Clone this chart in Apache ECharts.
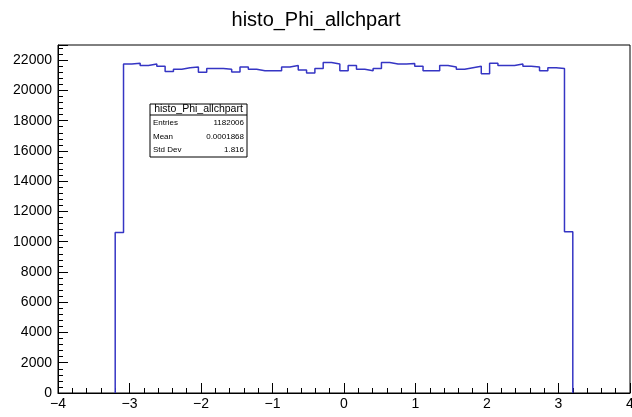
<!DOCTYPE html>
<html>
<head>
<meta charset="utf-8">
<script src="https://cdn.jsdelivr.net/npm/echarts@6/dist/echarts.min.js"></script>
<style>
  html, body { margin: 0; padding: 0; background: #fff; }
  #chart { width: 632px; height: 417px; }
</style>
</head>
<body>
<div id="chart"></div>
<script>
// histogram definition: 55 bins from -3.2 to 3.2
var binLow = -3.2;
var binHigh = 3.2;
var binCounts = [
  10600,
  21750, 21800, 21650, 21750, 21600, 21250, 21400, 21500, 21550, 21200, 21450, 21450, 21400,
  21220, 21550, 21400, 21300, 21300, 21300, 21550, 21650, 21350, 21150, 21450, 21850, 21750,
  21300, 21650, 21400, 21300, 21450, 21850, 21750, 21750, 21780, 21600, 21300, 21300, 21650, 21550,
  21400, 21500, 21600, 21100, 21800, 21650, 21650, 21750, 21600, 21550, 21300, 21500, 21450, 10650
];
var xTicks = [-4, -3, -2, -1, 0, 1, 2, 3, 4];
var yMax = 23000;

// stats box
var statsTitle = 'histo_Phi_allchpart';
var statsNames = ['Entries', 'Mean', 'Std Dev'];
var statsValues = ['1182006', '0.0001868', '1.816'];

// outline of the histogram (step shape)
var outline = [[binLow, 0]];
var w = (binHigh - binLow) / binCounts.length;
for (var i = 0; i < binCounts.length; i++) {
  outline.push([binLow + i * w, binCounts[i]]);
  outline.push([binLow + (i + 1) * w, binCounts[i]]);
}
outline.push([binHigh, 0]);

var font = 'Liberation Sans, Arial, sans-serif';
var myChart = echarts.init(document.getElementById('chart'));

// stats box graphics
var bx = 150, by = 104, bw = 97, bh = 53;
var graphics = [
  { type: 'rect', shape: { x: bx, y: by, width: bw, height: bh }, style: { fill: '#fff', stroke: '#000', lineWidth: 1 } },
  { type: 'line', shape: { x1: bx, y1: by + 11, x2: bx + bw, y2: by + 11 }, style: { stroke: '#000', lineWidth: 1 } },
  { type: 'text', x: bx + bw / 2, y: by + 5.5, style: { text: statsTitle, font: '10.5px ' + font, fill: '#000', align: 'center', verticalAlign: 'middle' } }
];
for (var k = 0; k < statsNames.length; k++) {
  var ry = by + 19 + k * 13.5;
  graphics.push({ type: 'text', x: bx + 3, y: ry, style: { text: statsNames[k], font: '8px ' + font, fill: '#000', align: 'left', verticalAlign: 'middle' } });
  graphics.push({ type: 'text', x: bx + bw - 3, y: ry, style: { text: statsValues[k], font: '8px ' + font, fill: '#000', align: 'right', verticalAlign: 'middle' } });
}

var option = {
  animation: false,
  backgroundColor: '#fff',
  title: {
    text: 'histo_Phi_allchpart',
    left: 'center',
    top: 5,
    textStyle: { color: '#000', fontSize: 20, fontWeight: 'normal', fontFamily: font }
  },
  grid: {
    left: 58, right: 2, top: 45, bottom: 24,
    outerBoundsMode: 'none',
    show: true, borderColor: '#000', borderWidth: 1
  },
  xAxis: {
    type: 'value',
    min: xTicks[0],
    max: xTicks[xTicks.length - 1],
    interval: 1,
    axisLine: { onZero: false, lineStyle: { color: '#000', width: 1 } },
    axisTick: { inside: true, length: 10, lineStyle: { color: '#000' } },
    minorTick: { show: true, splitNumber: 5, length: 5, lineStyle: { color: '#000' } },
    splitLine: { show: false },
    axisLabel: {
      color: '#000', fontSize: 14, fontFamily: font, margin: 4,
      formatter: function (v) { return String(v).replace('-', '\u2212'); }
    }
  },
  yAxis: [
    {
      type: 'value',
      min: 0,
      max: yMax,
      interval: 2000,
      axisLine: { show: true, onZero: false, lineStyle: { color: '#000', width: 1 } },
      axisTick: { show: true, inside: true, length: 10, lineStyle: { color: '#000' } },
      splitLine: { show: false },
      axisLabel: {
        color: '#000', fontSize: 14, fontFamily: font, margin: 6,
        formatter: function (v) { return v % 2000 === 0 ? String(v) : ''; }
      }
    },
    {
      // minor ticks every 400
      type: 'value',
      position: 'left',
      min: 0,
      max: yMax,
      interval: 400,
      axisLine: { show: false, onZero: false },
      axisTick: { show: true, inside: true, length: 5, lineStyle: { color: '#000' } },
      splitLine: { show: false },
      axisLabel: { show: false }
    }
  ],
  series: [
    {
      type: 'line',
      data: outline,
      showSymbol: false,
      lineStyle: { color: '#3535c4', width: 1.5 },
      z: 3
    }
  ],
  graphic: graphics
};
myChart.setOption(option);
</script>
</body>
</html>
